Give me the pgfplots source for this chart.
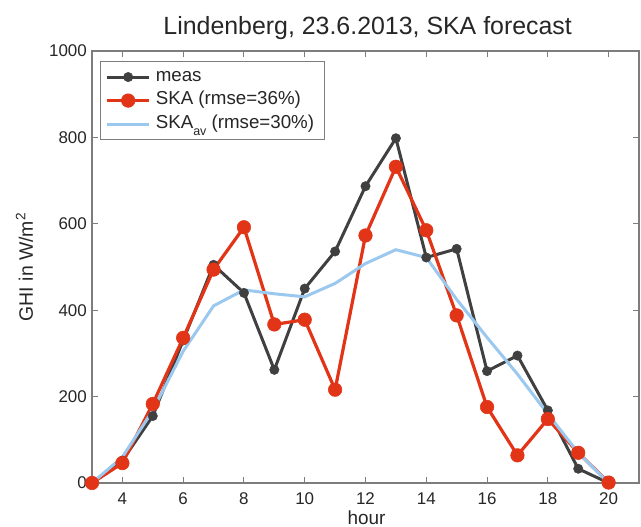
\documentclass[border=0pt]{standalone}
\usepackage{fontspec}
\setmainfont{Liberation Sans}
\usepackage{pgfplots}
\pgfplotsset{compat=1.18}
\definecolor{meascol}{RGB}{64,64,64}
\definecolor{skacol}{RGB}{226,52,22}
\definecolor{avcol}{RGB}{155,200,238}
\definecolor{axcol}{RGB}{125,125,125}
\begin{document}
\begin{tikzpicture}
\begin{axis}[
  scale only axis, width=547bp, height=432bp,
  xmin=3, xmax=21, ymin=0, ymax=1000,
  xtick={4,6,...,20}, ytick={0,200,...,1000},
  axis line style={axcol, line width=1.3bp},
  major tick style={axcol, line width=1.1bp},
  major tick length=6bp,
  tick align=inside,
  /pgf/number format/assume math mode=true,
  /pgf/number format/1000 sep={},
  ticklabel style={font=\fontsize{17}{17}\selectfont, text=black!85},
  xticklabel style={anchor=base, inner sep=0pt, yshift=-21.5bp},
  yticklabel style={anchor=east, inner sep=0pt, xshift=-5bp},
  title={Lindenberg, 23.6.2013, SKA forecast},
  title style={at={(axis description cs:0.504,1.0255)}, anchor=base, inner sep=0pt, font=\fontsize{25}{25}\selectfont, text=black!85},
  xlabel={hour},
  xlabel style={at={(axis description cs:0.502,-0.0960)}, anchor=base, inner sep=0pt, font=\fontsize{19}{19}\selectfont, text=black!85},
  ylabel={GHI in W/m\textsuperscript{2}},
  ylabel style={at={(axis description cs:-0.1079,0.5)}, anchor=base, inner sep=0pt, font=\fontsize{19.5}{19.5}\selectfont, text=black!85},
  legend style={at={(axis description cs:0.0146,0.9775)}, anchor=north west, draw=axcol, line width=1.2bp, fill=white, font=\fontsize{18.8}{18.8}\selectfont, inner xsep=5bp, inner ysep=4bp, row sep=0bp, nodes={inner xsep=5bp, inner ysep=2.5bp, text height=13.5bp, text depth=5bp, text=black!85}},
  legend cell align=left,
  legend image code/.code={\draw[mark repeat=2, mark phase=2, #1] plot coordinates {(0bp,0bp) (21bp,0bp) (42bp,0bp)};},
]
\addplot[color=meascol, line width=3bp, mark=*, mark size=4.7bp, mark options={fill=meascol, draw=meascol, line width=0.5bp, solid}] coordinates {
(3,0) (4,52) (5,155) (6,330) (7,505) (8,440) (9,262) (10,450) (11,536) (12,687) (13,798) (14,522) (15,542) (16,259) (17,295) (18,168) (19,33) (20,0)};
\addlegendentry{meas}
\addplot[color=skacol, line width=3.2bp, mark=*, mark size=6.8bp, mark options={fill=skacol, draw=skacol, line width=0.5bp, solid}] coordinates {
(3,0) (4,46) (5,183) (6,336) (7,494) (8,592) (9,367) (10,378) (11,216) (12,573) (13,732) (14,585) (15,388) (16,176) (17,64) (18,148) (19,70) (20,1)};
\addlegendentry{SKA (rmse=36\%)}
\addplot[color=avcol, line width=3bp, no marks] coordinates {
(3,0) (4,60) (5,168) (6,305) (7,410) (8,447) (9,438) (10,431) (11,462) (12,508) (13,540) (14,522) (15,425) (16,337) (17,252) (18,160) (19,70) (20,0)};
\addlegendentry{SKA\raisebox{-0.75ex}{\fontsize{12.5}{12.5}\selectfont av} (rmse=30\%)}
\coordinate (ll) at (rel axis cs:0,0);
\end{axis}
\pgfresetboundingbox
\path[use as bounding box] (ll) ++(-92bp,-44bp) rectangle ++(641bp,527bp);
\end{tikzpicture}
\end{document}
